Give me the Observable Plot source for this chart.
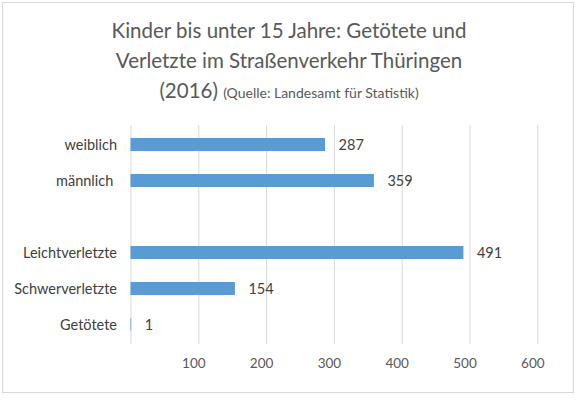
<!DOCTYPE html>
<html><head><meta charset="utf-8">
<script src="https://cdn.jsdelivr.net/npm/d3@7"></script>
<script src="https://cdn.jsdelivr.net/npm/@observablehq/plot@0.6"></script>
<style>
html,body{margin:0;padding:0;background:#fff;}
#wrap{position:relative;width:578px;height:400px;overflow:hidden;font-family:Lato,"Liberation Sans",sans-serif;}
#frame{position:absolute;left:2px;top:2px;width:570px;height:389px;border:1px solid #d9d9d9;pointer-events:none;}
#title{position:absolute;left:0;top:15px;width:578px;text-align:center;color:#595959;font-size:20.5px;line-height:30px;}
#title .src{font-size:14px;}
#chart{position:absolute;left:0;top:112px;}
</style></head>
<body>
<div id="wrap">
  <div id="title">Kinder bis unter 15 Jahre: Getötete und<br>Verletzte im Straßenverkehr Thüringen<br>(2016) <span class="src">(Quelle: Landesamt für Statistik)</span></div>
  <div id="chart"></div>
  <div id="frame"></div>
</div>
<script>
const categories = ["weiblich", "männlich", " ", "Leichtverletzte", "Schwerverletzte", "Getötete"];
const values = [287, 359, null, 491, 154, 1];
const xTicks = [100, 200, 300, 400, 500, 600];
const gridTicks = [0, 100, 200, 300, 400, 500, 600];

const data = categories.map((c, i) => ({cat: c, value: values[i]})).filter(d => d.value != null);

const plot = Plot.plot({
  width: 578,
  height: 283,
  marginTop: 13,
  marginBottom: 51,
  marginLeft: 130.5,
  marginRight: 40.7,
  style: {fontFamily: "Lato, 'Liberation Sans', sans-serif", background: "transparent"},
  x: {domain: [0, 600]},
  y: {domain: categories, paddingInner: 0.64, paddingOuter: 0.32, label: null},
  marks: [
    Plot.gridX(gridTicks, {stroke: "#d9d9d9", strokeOpacity: 1, strokeWidth: 1}),
    Plot.barX(data, {x: "value", y: "cat", fill: "#5b9bd5"}),
    Plot.text(data, {x: "value", y: "cat", text: d => String(d.value), textAnchor: "start", dx: 13, fill: "#404040", fontSize: 14.5}),
    Plot.axisX(xTicks, {tickSize: 0, tickPadding: 14, dx: -5, label: null, fill: "#595959", fontSize: 13.5}),
    Plot.axisY({tickSize: 0, tickPadding: 14, label: null, fill: "#404040", fontSize: 14.5,
      tickFormat: d => d === "männlich" ? d + "\u00a0" : d})
  ]
});
document.getElementById("chart").appendChild(plot);
</script>
</body></html>
